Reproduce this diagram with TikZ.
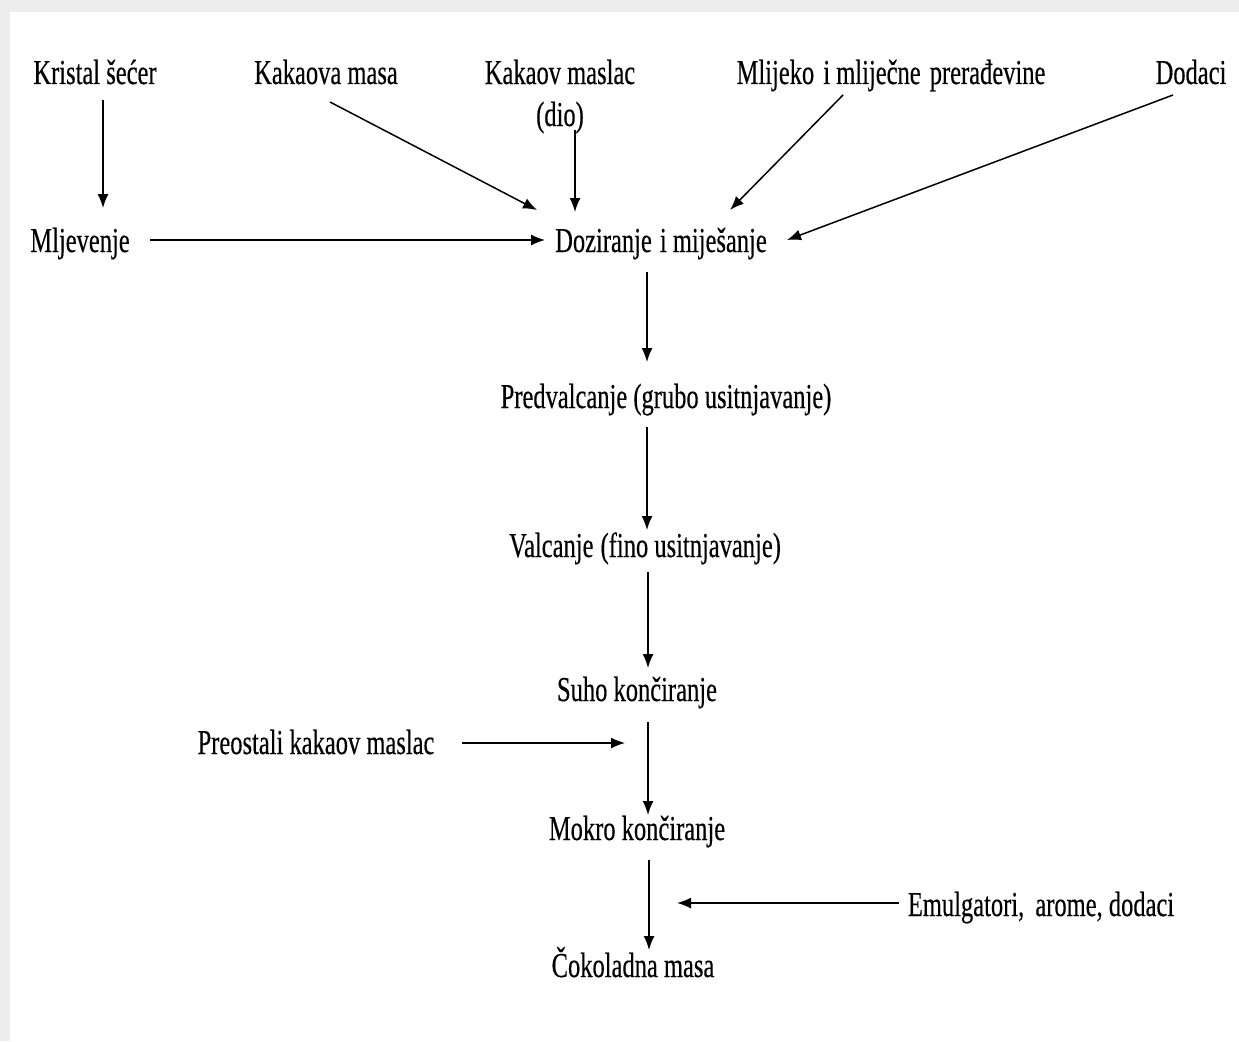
\documentclass[tikz,border=0pt]{standalone}
\usepackage{fontspec}
\setmainfont[FakeStretch=0.7,FakeBold=0.3]{Liberation Serif}
\usetikzlibrary{positioning,calc,arrows.meta}

\begin{document}
\begin{tikzpicture}[x=1pt,y=-1pt,
		txt/.style = {inner sep=0pt,anchor=base,font=\fontsize{35}{42}\selectfont},
		arr/.style = {draw,line width=1.5pt,-{Latex[length=14pt,width=11pt]}}]
			\useasboundingbox (0,0) rectangle (1239,1041);
			\fill[black!7] (0,0) rectangle (1239,1041);
			\fill[white] (10,12) rectangle (1239,1041);
			\node (ks)   at (95, 84)  [txt] {Kristal šećer};
			\node (km)   at (326, 84) [txt] {Kakaova masa};
			\node (kml)  at (560, 126) [txt,align=center] {Kakaov maslac\\(dio)};
			\node (mli)  at (891, 84) [txt] {Mlijeko\hspace{3pt} i mliječne\hspace{3pt} prerađevine};
			\node (dod)  at (1191, 84) [txt] {Dodaci};
			\node (mlj)  at (80, 252) [txt] {Mljevenje};
			\node (doz)  at (661, 252) [txt] {Doziranje\hspace{2pt} i miješanje};
			\node (pred) at (666, 408) [txt] {Predvalcanje (grubo usitnjavanje)};
			\node (val)  at (645, 557) [txt] {Valcanje\hspace{1pt} (fino usitnjavanje)};
			\node (suho) at (637, 701) [txt] {Suho končiranje};
			\node (pre)  at (316, 754) [txt] {Preostali kakaov maslac};
			\node (mok)  at (637, 840) [txt] {Mokro končiranje};
			\node (emu)  at (1041, 916) [txt] {Emulgatori,\hspace{5pt} arome, dodaci};
			\node (cok)  at (633, 977) [txt] {Čokoladna masa};
			\coordinate (preend) at ($(mok.base)+(-12,-97)$);
			\coordinate (emuend) at ($(cok.base)+(44,-74)$);
			\draw[arr] ($(ks.base)+(8,16)$) -- ($(mlj.base)+(23,-44)$);
			\draw[arr] ($(km.base)+(4,18)$) -- ($(doz.base)+(-124,-42)$);
			\draw[arr] ($(kml.base)+(15,4)$) -- ($(doz.base)+(-86,-40)$);
			\draw[arr] ($(mli.base)+(-48,11)$) -- ($(doz.base)+(69,-42)$);
			\draw[arr] ($(dod.base)+(-18,11)$) -- ($(doz.base)+(126,-12)$);
			\draw[arr] ($(mlj.base)+(70,-12)$) -- ($(doz.base)+(-116,-12)$);
			\draw[arr] ($(doz.base)+(-14,20)$) -- ($(pred.base)+(-19,-46)$);
			\draw[arr] ($(pred.base)+(-19,19)$) -- ($(val.base)+(2,-27)$);
			\draw[arr] ($(val.base)+(3,15)$) -- ($(suho.base)+(11,-33)$);
			\draw[arr] ($(suho.base)+(11,21)$) -- ($(mok.base)+(11,-25)$);
			\draw[arr] ($(pre.base)+(146,-11)$) -- (preend);
			\draw[arr] ($(mok.base)+(12,20)$) -- ($(cok.base)+(16,-27)$);
			\draw[arr] ($(emu.base)+(-142,-13)$) -- (emuend);
		\end{tikzpicture}
\end{document}
